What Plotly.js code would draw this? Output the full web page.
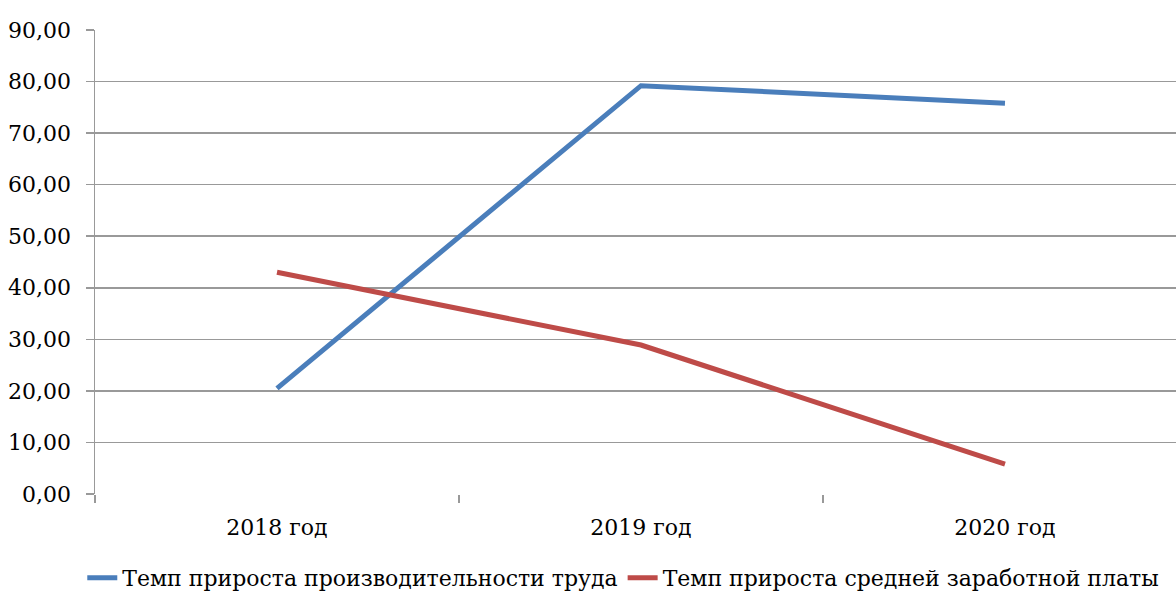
<!DOCTYPE html>
<html>
<head>
<meta charset="utf-8">
<script src="https://cdn.plot.ly/plotly-3.0.1.min.js"></script>
<style>
html,body{margin:0;padding:0;overflow:hidden;background:#fff;}
#chart{width:1176px;height:594px;}
</style>
</head>
<body>
<div id="chart"></div>
<script>
const categories = ["2018 год", "2019 год", "2020 год"];
const productivityGrowth = [20.5, 79.2, 75.8];
const wageGrowth = [43.0, 28.9, 5.8];
const seriesNames = ["Темп прироста производительности труда", "Темп прироста средней заработной платы"];
const yTicks = [0, 10, 20, 30, 40, 50, 60, 70, 80, 90];
const yTickLabels = ["0,00", "10,00", "20,00", "30,00", "40,00", "50,00", "60,00", "70,00", "80,00", "90,00"];

const font = {family: "DejaVu Serif", size: 22, color: "#000"};

const traces = [
  {x: categories, y: productivityGrowth, name: seriesNames[0], type: "scatter", mode: "lines",
   line: {color: "#4a7ebb", width: 5}},
  {x: categories, y: wageGrowth, name: seriesNames[1], type: "scatter", mode: "lines",
   line: {color: "#be4b48", width: 5}}
];

const layout = {
  width: 1176, height: 594,
  margin: {l: 95, r: 0, t: 29.5, b: 100},
  paper_bgcolor: "#fff", plot_bgcolor: "#fff",
  font: font,
  showlegend: true,
  legend: {orientation: "h", xref: "container", yref: "container", x: 0.53, xanchor: "center",
           y: 0.027, yanchor: "middle", font: font, itemwidth: 30, tracegroupgap: 0},
  xaxis: {type: "category", range: [-0.5, 2.4698], tickson: "boundaries", ticks: "outside",
          ticklen: 8, tickwidth: 1.5, tickcolor: "#999", showgrid: false, showline: false,
          zeroline: false, tickfont: font, fixedrange: true, ticklabelstandoff: 18},
  yaxis: {range: [0, 90], tickvals: yTicks, ticktext: yTickLabels, ticks: "outside", ticklen: 8,
          tickwidth: 1.5, tickcolor: "#999", showgrid: true, gridcolor: "#999", gridwidth: 1.5,
          showline: true, linecolor: "#999", linewidth: 1.5, zeroline: false, tickfont: font,
          ticklabelstandoff: 10}
};

Plotly.newPlot("chart", traces, layout, {displayModeBar: false, staticPlot: true});
</script>
</body>
</html>
